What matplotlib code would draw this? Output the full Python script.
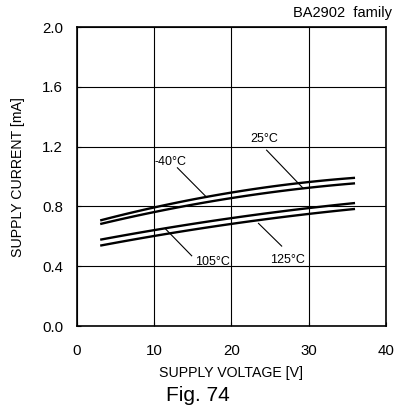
import numpy as np
import matplotlib.pyplot as plt

plt.rcParams['font.family'] = ['Liberation Sans', 'DejaVu Sans']

# Supply voltage [V] and supply current [mA]
voltage = [3, 10, 20, 30, 36]
i_m40 = [0.698, 0.81, 0.888, 0.954, 0.999]
i_25 = [0.676, 0.776, 0.850, 0.921, 0.959]
i_105 = [0.575, 0.647, 0.720, 0.787, 0.825]
i_125 = [0.535, 0.609, 0.680, 0.749, 0.785]

xticks = [0, 10, 20, 30, 40]
yticks = [0.0, 0.4, 0.8, 1.2, 1.6, 2.0]

fig = plt.figure(figsize=(3.95, 4.12), dpi=100)
ax = fig.add_axes([0.195, 0.2087, 0.782, 0.7253])

for curve in (i_m40, i_25, i_105, i_125):
    # smooth a bit with a quadratic fit through the read points
    c = np.polyfit(voltage, curve, 2)
    xs = np.linspace(voltage[0], voltage[-1], 100)
    ax.plot(xs, np.polyval(c, xs), color='black', lw=1.7, solid_capstyle='butt')

ax.set_xlim(0, 40)
ax.set_ylim(0, 2.0)
ax.set_xticks(xticks)
ax.set_yticks(yticks)
ax.set_yticklabels([f'{v:.1f}' for v in yticks])
ax.grid(True, color='black', lw=0.8)
ax.tick_params(direction='in', length=3, labelsize=10.8, colors='black')
ax.tick_params(axis='x', pad=13)
ax.tick_params(axis='y', pad=10)
for s in ax.spines.values():
    s.set_linewidth(1.2)

ax.set_xlabel('SUPPLY VOLTAGE [V]', fontsize=10.2, labelpad=6)
ax.set_ylabel('SUPPLY CURRENT [mA]', fontsize=10.2, labelpad=12)

# curve labels with leader lines
labels = [('-40°C', (12.1, 1.099), (13.0, 1.059), (16.8, 0.861)),
          ('25°C', (24.3, 1.255), (24.55, 1.177), (29.3, 0.921)),
          ('105°C', (17.5, 0.43), (14.85, 0.47), (11.4, 0.653)),
          ('125°C', (27.2, 0.441), (26.5, 0.535), (23.5, 0.687))]
for txt, tpos, p0, p1 in labels:
    ax.text(tpos[0], tpos[1], txt, fontsize=9, ha='center', va='center')
    ax.plot([p0[0], p1[0]], [p0[1], p1[1]], color='black', lw=0.8)

fig.text(0.992, 0.968, 'BA2902  family', fontsize=10.5, ha='right', va='center')
fig.text(0.5, 0.041, 'Fig. 74', fontsize=15, ha='center', va='center')

fig.savefig('out.png', dpi=100)
